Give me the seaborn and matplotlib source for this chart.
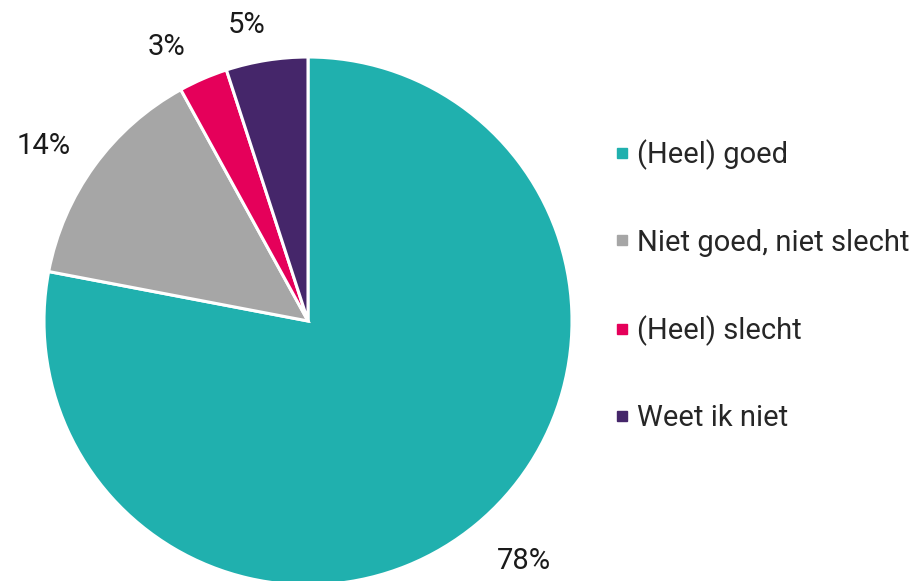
import matplotlib
matplotlib.use("Agg")
import matplotlib.pyplot as plt
from matplotlib.lines import Line2D
import seaborn as sns

# data
categories = ["(Heel) goed", "Niet goed, niet slecht", "(Heel) slecht", "Weet ik niet"]
shares = [78, 14, 3, 5]
colors = ["#20B0AE", "#A6A6A6", "#E5005A", "#45266A"]

sns.set_theme(style="white")
plt.rcParams["font.family"] = ["Roboto", "DejaVu Sans"]

W, H = 912, 581
cx, cy, r = 308, 321, 264  # pie centre / radius in pixels

fig = plt.figure(figsize=(W / 100, H / 100), dpi=100)
ax = fig.add_axes([0, 0, 1, 1])

wedges, texts = ax.pie(
    shares,
    colors=colors,
    startangle=90,
    counterclock=False,
    labels=[f"{v}%" for v in shares],
    labeldistance=1.18,
    wedgeprops=dict(edgecolor="white", linewidth=2.2),
    textprops=dict(fontsize=21, color="#1a1a1a"),
)
# small pixel nudges so the labels sit where the reference puts them
nudges = [(17, 0), (-12, -8), (-18, -12), (-13, -12)]
for t, (dx, dy) in zip(texts, nudges):
    x, y = t.get_position()
    t.set_position((x + dx / r, y + dy / r))
    t.set_horizontalalignment("center")
    t.set_verticalalignment("center")

# map data units so 1 unit == r pixels, centre at (cx, cy)
ax.set_aspect("auto")
ax.set_xlim(-cx / r, (W - cx) / r)
ax.set_ylim(-(H - cy) / r, cy / r)
ax.axis("off")

handles = [Line2D([], [], marker="s", linestyle="", markersize=7.5,
                  markerfacecolor=c, markeredgecolor=c) for c in colors]
fig.legend(handles, categories, loc="upper left",
           bbox_to_anchor=(599 / W, 1 - 125 / H), bbox_transform=fig.transFigure,
           frameon=False, fontsize=21, labelspacing=2.0,
           handlelength=0.6, handletextpad=0.2, borderpad=0)

fig.savefig("out.png", dpi=100, facecolor="white")
